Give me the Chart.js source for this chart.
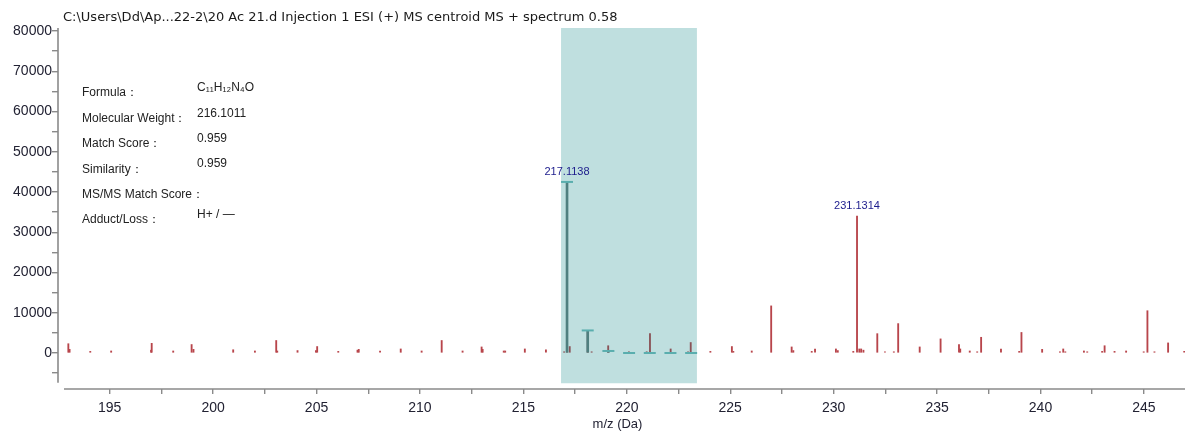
<!DOCTYPE html>
<html lang="en">
<head>
    <meta charset="UTF-8">
    <title>MS spectrum</title>
    <script src="https://cdn.jsdelivr.net/npm/chart.js"></script>
    <style>
        body {
            margin: 0;
            background: #fff;
        }
        canvas {
            display: block;
        }
    </style>
</head>
<body>
    <canvas id="spectrum" width="1185" height="435"></canvas>

    <script>
        // measured peaks (m/z, intensity)
        const peakMz = [
            193.00, 193.06, 194.06, 195.07, 197.00, 197.03, 198.07, 198.96, 199.05, 200.97,
            202.02, 203.05, 203.10, 204.08, 204.97, 205.03, 206.05, 206.98, 207.04, 208.07,
            209.07, 210.08, 211.05, 212.06, 212.98, 213.03, 214.05, 214.12, 215.07, 216.09,
            216.97, 217.11, 217.24, 218.11, 218.30, 219.10, 220.10, 220.96, 221.12, 222.12,
            222.96, 223.09, 224.04, 225.08, 225.15, 226.04, 226.98, 227.97, 228.05, 228.94,
            229.10, 230.11, 230.20, 230.95, 231.13, 231.24, 231.33, 231.44, 232.11, 232.48,
            232.91, 233.12, 234.16, 235.17, 236.06, 236.12, 236.58, 236.94, 237.13, 238.09,
            238.97, 239.08, 240.08, 240.94, 241.10, 241.20, 242.10, 242.26, 242.98, 243.10,
            243.58, 244.14, 244.99, 245.17, 245.51, 246.17, 246.95
        ];
        const peakIntensity = [
            2300, 900, 400, 500, 700, 2400, 500, 2100, 900, 800,
            500, 3100, 500, 600, 600, 1600, 400, 700, 900, 500,
            1000, 500, 3100, 500, 1500, 900, 500, 500, 1000, 800,
            300, 42500, 1600, 5500, 300, 1800, 300, 300, 4800, 1000,
            300, 2600, 400, 1600, 400, 500, 11700, 1500, 600, 400,
            1000, 1000, 600, 400, 34000, 1000, 1000, 700, 4800, 300,
            300, 7300, 1500, 3500, 2100, 1000, 500, 300, 3900, 1000,
            400, 5100, 900, 300, 1000, 300, 500, 300, 400, 1800,
            400, 500, 300, 10500, 300, 2500, 400
        ];

        // theoretical isotope pattern
        const isoMz = [217.11, 218.11, 219.11, 220.11, 221.11, 222.11, 223.11];
        const isoIntensity = [42500, 5600, 500, 0, 0, 0, 0];

        // highlighted window
        const bandMz = [216.82, 223.39];
        const bandIntensity = [-7500, 80750];

        // annotated peaks
        const labelMz = [217.11, 231.13];
        const labelIntensity = [42500, 34000];
        const labelText = ["217.1138", "231.1314"];

        // axis ticks
        const xTicks = [195, 197.5, 200, 202.5, 205, 207.5, 210, 212.5, 215, 217.5, 220, 222.5,
                        225, 227.5, 230, 232.5, 235, 237.5, 240, 242.5, 245];
        const xTickLabels = ["195", "", "200", "", "205", "", "210", "", "215", "", "220", "",
                             "225", "", "230", "", "235", "", "240", "", "245"];
        const yTicks = [-5000, 0, 5000, 10000, 15000, 20000, 25000, 30000, 35000, 40000,
                        45000, 50000, 55000, 60000, 65000, 70000, 75000, 80000];
        const yTickLabels = ["", "0", "", "10000", "", "20000", "", "30000", "", "40000",
                             "", "50000", "", "60000", "", "70000", "", "80000"];

        const titleText = "C:\\Users\\Dd\\Ap...22-2\\20 Ac 21.d Injection 1 ESI (+) MS centroid MS + spectrum 0.58";
        const infoLabels = ["Formula：", "Molecular Weight：", "Match Score：", "Similarity：", "MS/MS Match Score：", "Adduct/Loss："];
        const infoValues = ["C₁₁H₁₂N₄O", "216.1011", "0.959", "0.959", "", "H+ / —"];

        const FONT = "'Liberation Sans', Arial, sans-serif";
        const TITLE_FONT = "'DejaVu Sans', sans-serif";

        const decorPlugin = {
            id: "decor",
            afterDraw(chart) {
                const ctx = chart.ctx;
                const area = chart.chartArea;
                const x = chart.scales.x;
                const y = chart.scales.y;

                ctx.save();
                // axis lines, drawn apart like the original
                ctx.strokeStyle = "#8a8a8a";
                ctx.lineWidth = 1.6;
                ctx.beginPath();
                ctx.moveTo(area.left, area.top);
                ctx.lineTo(area.left, y.getPixelForValue(-7400));
                ctx.moveTo(area.left + 6, area.bottom);
                ctx.lineTo(chart.width, area.bottom);
                ctx.stroke();

                // title
                ctx.fillStyle = "#1a1a1a";
                ctx.font = "13px " + TITLE_FONT;
                ctx.textBaseline = "middle";
                ctx.textAlign = "left";
                ctx.fillText(titleText, area.left + 5, 18);

                // info block
                ctx.font = "12px " + FONT;
                ctx.fillStyle = "#222";
                for (let i = 0; i < infoLabels.length; i++) {
                    ctx.fillText(infoLabels[i], 82, 93 + 25.4 * i);
                    ctx.fillText(infoValues[i], 197, 88 + 25.3 * i);
                }

                // peak labels
                ctx.font = "11px " + FONT;
                ctx.fillStyle = "#1c1c8c";
                ctx.textAlign = "center";
                for (let i = 0; i < labelMz.length; i++) {
                    ctx.fillText(labelText[i], x.getPixelForValue(labelMz[i]), y.getPixelForValue(labelIntensity[i]) - 10);
                }
                ctx.restore();
            }
        };

        const ctx = document.getElementById("spectrum").getContext("2d");

        new Chart(ctx, {
            data: {
                datasets: [
                    {
                        type: "bar",
                        label: "spectrum",
                        data: peakMz.map((m, i) => ({ x: m, y: peakIntensity[i] })),
                        backgroundColor: "#b8454b",
                        barThickness: 1.2,
                        grouped: false,
                        clip: false,
                        order: 4
                    },
                    {
                        type: "line",
                        label: "window",
                        data: bandMz.map(m => ({ x: m, y: bandIntensity[1] })),
                        fill: { value: bandIntensity[0] },
                        backgroundColor: "rgba(0, 128, 128, 0.25)",
                        borderWidth: 0,
                        pointRadius: 0,
                        order: 3
                    },
                    {
                        type: "bar",
                        label: "isotope",
                        data: isoMz.map((m, i) => ({ x: m, y: isoIntensity[i] })),
                        backgroundColor: "#4f7f7f",
                        barThickness: 2,
                        grouped: false,
                        order: 2
                    },
                    {
                        type: "scatter",
                        label: "isotope caps",
                        data: isoMz.map((m, i) => ({ x: m, y: isoIntensity[i] })),
                        pointStyle: "line",
                        pointRadius: 6,
                        pointBorderWidth: 2,
                        pointBorderColor: "#5aaeae",
                        order: 1
                    }
                ]
            },
            options: {
                responsive: false,
                animation: false,
                layout: {
                    padding: { top: 28, right: 0, bottom: 0, left: 0 }
                },
                plugins: {
                    legend: { display: false },
                    tooltip: { enabled: false }
                },
                scales: {
                    x: {
                        type: "linear",
                        min: 192.5,
                        max: 246.6,
                        offset: false,
                        afterBuildTicks: s => { s.ticks = xTicks.map(v => ({ value: v })); },
                        afterFit: s => { s.height = 46; },
                        border: { display: false },
                        grid: {
                            offset: false,
                            drawOnChartArea: false,
                            color: "#8a8a8a",
                            tickLength: 5,
                            lineWidth: 1.4
                        },
                        ticks: {
                            autoSkip: false,
                            maxRotation: 0,
                            padding: 6,
                            color: "#222233",
                            font: { family: FONT, size: 14 },
                            callback: (v, i) => xTickLabels[i]
                        },
                        title: {
                            display: true,
                            text: "m/z (Da)",
                            color: "#222233",
                            font: { family: FONT, size: 13 },
                            padding: { top: 0, bottom: 3 }
                        }
                    },
                    y: {
                        type: "linear",
                        min: -8950,
                        max: 80750,
                        afterBuildTicks: s => { s.ticks = yTicks.map(v => ({ value: v })); },
                        afterFit: s => { s.width = 58; },
                        border: { display: false },
                        grid: {
                            drawOnChartArea: false,
                            color: "#8a8a8a",
                            tickLength: 6,
                            lineWidth: 1.4
                        },
                        ticks: {
                            autoSkip: false,
                            padding: 0,
                            color: "#222233",
                            font: { family: FONT, size: 14 },
                            callback: (v, i) => yTickLabels[i]
                        }
                    }
                }
            },
            plugins: [decorPlugin]
        });
    </script>
</body>
</html>
